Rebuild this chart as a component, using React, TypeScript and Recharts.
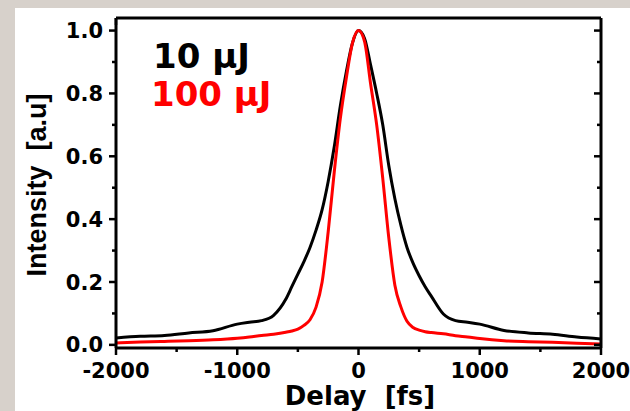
import { LineChart, Line, XAxis, YAxis } from "recharts";

const delays = [
  -2000, -1800, -1600, -1400, -1200, -1000, -900, -800, -700, -600, -550, -500, -450, -400, -350, -300,
  -250, -200, -150, -100, -50, 0, 50, 100, 150, 200, 250, 300, 350, 400, 450, 500, 550, 600, 700, 800,
  900, 1000, 1200, 1400, 1600, 1800, 2000,
];

const low = [
  0.022, 0.027, 0.03, 0.038, 0.045, 0.066, 0.072, 0.077, 0.094, 0.145, 0.185, 0.225, 0.265, 0.31, 0.365, 0.43,
  0.52, 0.63, 0.76, 0.87, 0.96, 1.0, 0.975, 0.89, 0.8, 0.7, 0.57, 0.465, 0.38, 0.31, 0.26, 0.22, 0.185, 0.155,
  0.098, 0.077, 0.072, 0.066, 0.046, 0.038, 0.034, 0.025, 0.019,
];

const high = [
  0.006, 0.009, 0.011, 0.013, 0.016, 0.021, 0.025, 0.03, 0.034, 0.04, 0.044, 0.05, 0.062, 0.08, 0.12, 0.2,
  0.36, 0.55, 0.72, 0.85, 0.96, 1.0, 0.965, 0.83, 0.7, 0.53, 0.34, 0.19, 0.12, 0.075, 0.055, 0.047, 0.042,
  0.039, 0.035, 0.029, 0.025, 0.02, 0.013, 0.01, 0.008, 0.005, 0.003,
];

const xTicks = [-2000, -1500, -1000, -500, 0, 500, 1000, 1500, 2000];
const yTicks = [0, 0.1, 0.2, 0.3, 0.4, 0.5, 0.6, 0.7, 0.8, 0.9, 1.0];

const data = delays.map((d, i) => ({ delay: d, low: low[i], high: high[i] }));

const tickFont = { fontFamily: "DejaVu Sans", fontWeight: 700, fontSize: 21, fill: "#000" };
const frame = { stroke: "#000", strokeWidth: 3 };

const isMajorX = (v: number) => v % 1000 === 0;
const isMajorY = (v: number) => Math.round(v * 10) % 2 === 0;

const BottomTick = (p: any) => {
  const major = isMajorX(p.payload.value);
  return (
    <g>
      <line x1={p.x} x2={p.x} y1={p.y} y2={p.y + (major ? 7 : 4)} stroke="#000" strokeWidth={2.5} />
      {major && (
        <text x={p.x} y={p.y + 30} textAnchor="middle" style={tickFont}>
          {p.payload.value}
        </text>
      )}
    </g>
  );
};

const TopTick = (p: any) => {
  const major = isMajorX(p.payload.value);
  return <line x1={p.x} x2={p.x} y1={p.y} y2={p.y + (major ? 7 : 4)} stroke="#000" strokeWidth={2.5} />;
};

const LeftTick = (p: any) => {
  const major = isMajorY(p.payload.value);
  return (
    <g>
      <line x1={p.x - (major ? 7 : 4)} x2={p.x} y1={p.y} y2={p.y} stroke="#000" strokeWidth={2.5} />
      {major && (
        <text x={p.x - 13} y={p.y + 7.5} textAnchor="end" style={tickFont}>
          {Number(p.payload.value).toFixed(1)}
        </text>
      )}
    </g>
  );
};

const RightTick = (p: any) => {
  const major = isMajorY(p.payload.value);
  return <line x1={p.x - (major ? 7 : 4)} x2={p.x} y1={p.y} y2={p.y} stroke="#000" strokeWidth={2.5} />;
};

export default function App() {
  return (
    <div style={{ position: "absolute", left: 0, top: 0, width: 630, height: 411, background: "#d7d1cb" }}>
      <div style={{ position: "absolute", left: 15, top: 8, right: 0, bottom: 0, background: "#fff" }} />
      <div style={{ position: "absolute", left: 0, top: 0 }}>
        <LineChart width={630} height={411} data={data} margin={{ top: 8, right: 19, bottom: 23, left: 56 }}>
          <XAxis
            dataKey="delay"
            type="number"
            domain={[-2000, 2000]}
            ticks={xTicks}
            allowDataOverflow
            height={40}
            tickSize={0}
            tickMargin={0}
            axisLine={frame}
            tickLine={false}
            tick={BottomTick}
            interval={0}
          />
          <XAxis
            xAxisId="top"
            orientation="top"
            type="number"
            domain={[-2000, 2000]}
            ticks={xTicks}
            allowDataOverflow
            height={10}
            tickSize={0}
            tickMargin={0}
            axisLine={frame}
            tickLine={false}
            tick={TopTick}
            interval={0}
          />
          <YAxis
            type="number"
            domain={[-0.01, 1.04]}
            ticks={yTicks}
            allowDataOverflow
            width={60}
            tickSize={0}
            tickMargin={0}
            axisLine={frame}
            tickLine={false}
            tick={LeftTick}
            interval={0}
          />
          <YAxis
            yAxisId="right"
            orientation="right"
            type="number"
            domain={[-0.01, 1.04]}
            ticks={yTicks}
            allowDataOverflow
            width={10}
            tickSize={0}
            tickMargin={0}
            axisLine={frame}
            tickLine={false}
            tick={RightTick}
            interval={0}
          />
          <Line type="monotone" dataKey="low" stroke="#000" strokeWidth={3} dot={false} isAnimationActive={false} />
          <Line type="monotone" dataKey="high" stroke="#ff0000" strokeWidth={3} dot={false} isAnimationActive={false} />
        </LineChart>
      </div>
      <svg width={630} height={411} style={{ position: "absolute", left: 0, top: 0, pointerEvents: "none" }}>
        <text x={153} y={68} style={{ fontFamily: "DejaVu Sans", fontWeight: 700, fontSize: 34, fill: "#000" }}>
          10 µJ
        </text>
        <text x={151} y={106} style={{ fontFamily: "DejaVu Sans", fontWeight: 700, fontSize: 34, fill: "#ff0000" }}>
          100 µJ
        </text>
        <text x={360} y={405} textAnchor="middle" style={{ fontFamily: "DejaVu Sans", fontWeight: 700, fontSize: 26, fill: "#000" }}>
          {"Delay\u00A0\u00A0[fs]"}
        </text>
        <text
          transform="translate(46,185) rotate(-90)"
          textAnchor="middle"
          style={{ fontFamily: "Liberation Sans", fontWeight: 700, fontSize: 27, fill: "#000" }}
        >
          {"Intensity\u00A0\u00A0[a.u]"}
        </text>
      </svg>
    </div>
  );
}
